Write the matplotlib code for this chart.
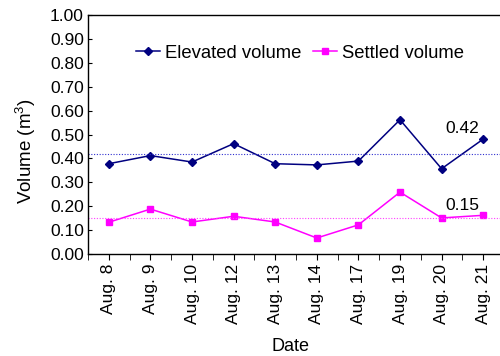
import numpy as np
import matplotlib
matplotlib.use("Agg")
import matplotlib.pyplot as plt

plt.rcParams["font.family"] = ["Liberation Sans", "DejaVu Sans"]
plt.rcParams["mathtext.fontset"] = "custom"
plt.rcParams["mathtext.rm"] = "Liberation Sans"
plt.rcParams["mathtext.it"] = "Liberation Sans:italic"

dates = ["Aug. 8", "Aug. 9", "Aug. 10", "Aug. 12", "Aug. 13",
         "Aug. 14", "Aug. 17", "Aug. 19", "Aug. 20", "Aug. 21"]
elevated = [0.378, 0.412, 0.385, 0.462, 0.378, 0.373, 0.389, 0.562, 0.357, 0.481]
settled = [0.133, 0.188, 0.134, 0.158, 0.134, 0.067, 0.122, 0.259, 0.151, 0.162]
elevated_mean = 0.42
settled_mean = 0.15

fig = plt.figure(figsize=(5.0, 3.56), dpi=100)
ax = fig.add_axes([0.176, 0.2865, 0.832, 0.671])

x = np.arange(len(dates))
ax.plot(x, elevated, color="#000080", lw=1.1, marker="D", ms=4,
        label="Elevated volume")
ax.plot(x, settled, color="#ff00ff", lw=1.1, marker="s", ms=5,
        label="Settled volume")

# average lines with their values
ax.axhline(elevated_mean, color="#3030d0", lw=0.8, ls=(0, (1, 1.5)))
ax.axhline(settled_mean, color="#ff40ff", lw=0.8, ls=(0, (1, 1.5)))
ax.text(8.5, 0.527, f"{elevated_mean:.2f}", fontsize=12.5,
        ha="center", va="center")
ax.text(8.5, 0.205, f"{settled_mean:.2f}", fontsize=12.5,
        ha="center", va="center")

ax.set_xlim(-0.5, len(dates) - 0.5)
ax.set_ylim(0, 1.0)
ax.set_yticks(np.arange(0, 1.01, 0.1))
ax.set_yticklabels([f"{v:.2f}" for v in np.arange(0, 1.01, 0.1)])
ax.set_xticks(x)
ax.set_xticklabels(dates, rotation=90)
ax.set_xticks(np.arange(-0.5, len(dates), 1.0), minor=True)
ax.tick_params(axis="y", direction="in", length=3, labelsize=12.5, pad=3)
ax.tick_params(axis="x", which="both", direction="out", length=4,
               labelsize=12.5, pad=3)

for s in ax.spines.values():
    s.set_linewidth(1.0)

ax.set_xlabel("Date", fontsize=13)
ax.set_ylabel("Volume (m$^3$)", fontsize=13.5)
ax.xaxis.set_label_coords(0.486, -0.35)
ax.yaxis.set_label_coords(-0.12, 0.43)

ax.legend(loc="center", bbox_to_anchor=(0.51, 0.84), ncol=2,
          frameon=False, fontsize=13.3, handlelength=1.3, handletextpad=0.27,
          columnspacing=0.6)

fig.savefig("out.png", dpi=100)
